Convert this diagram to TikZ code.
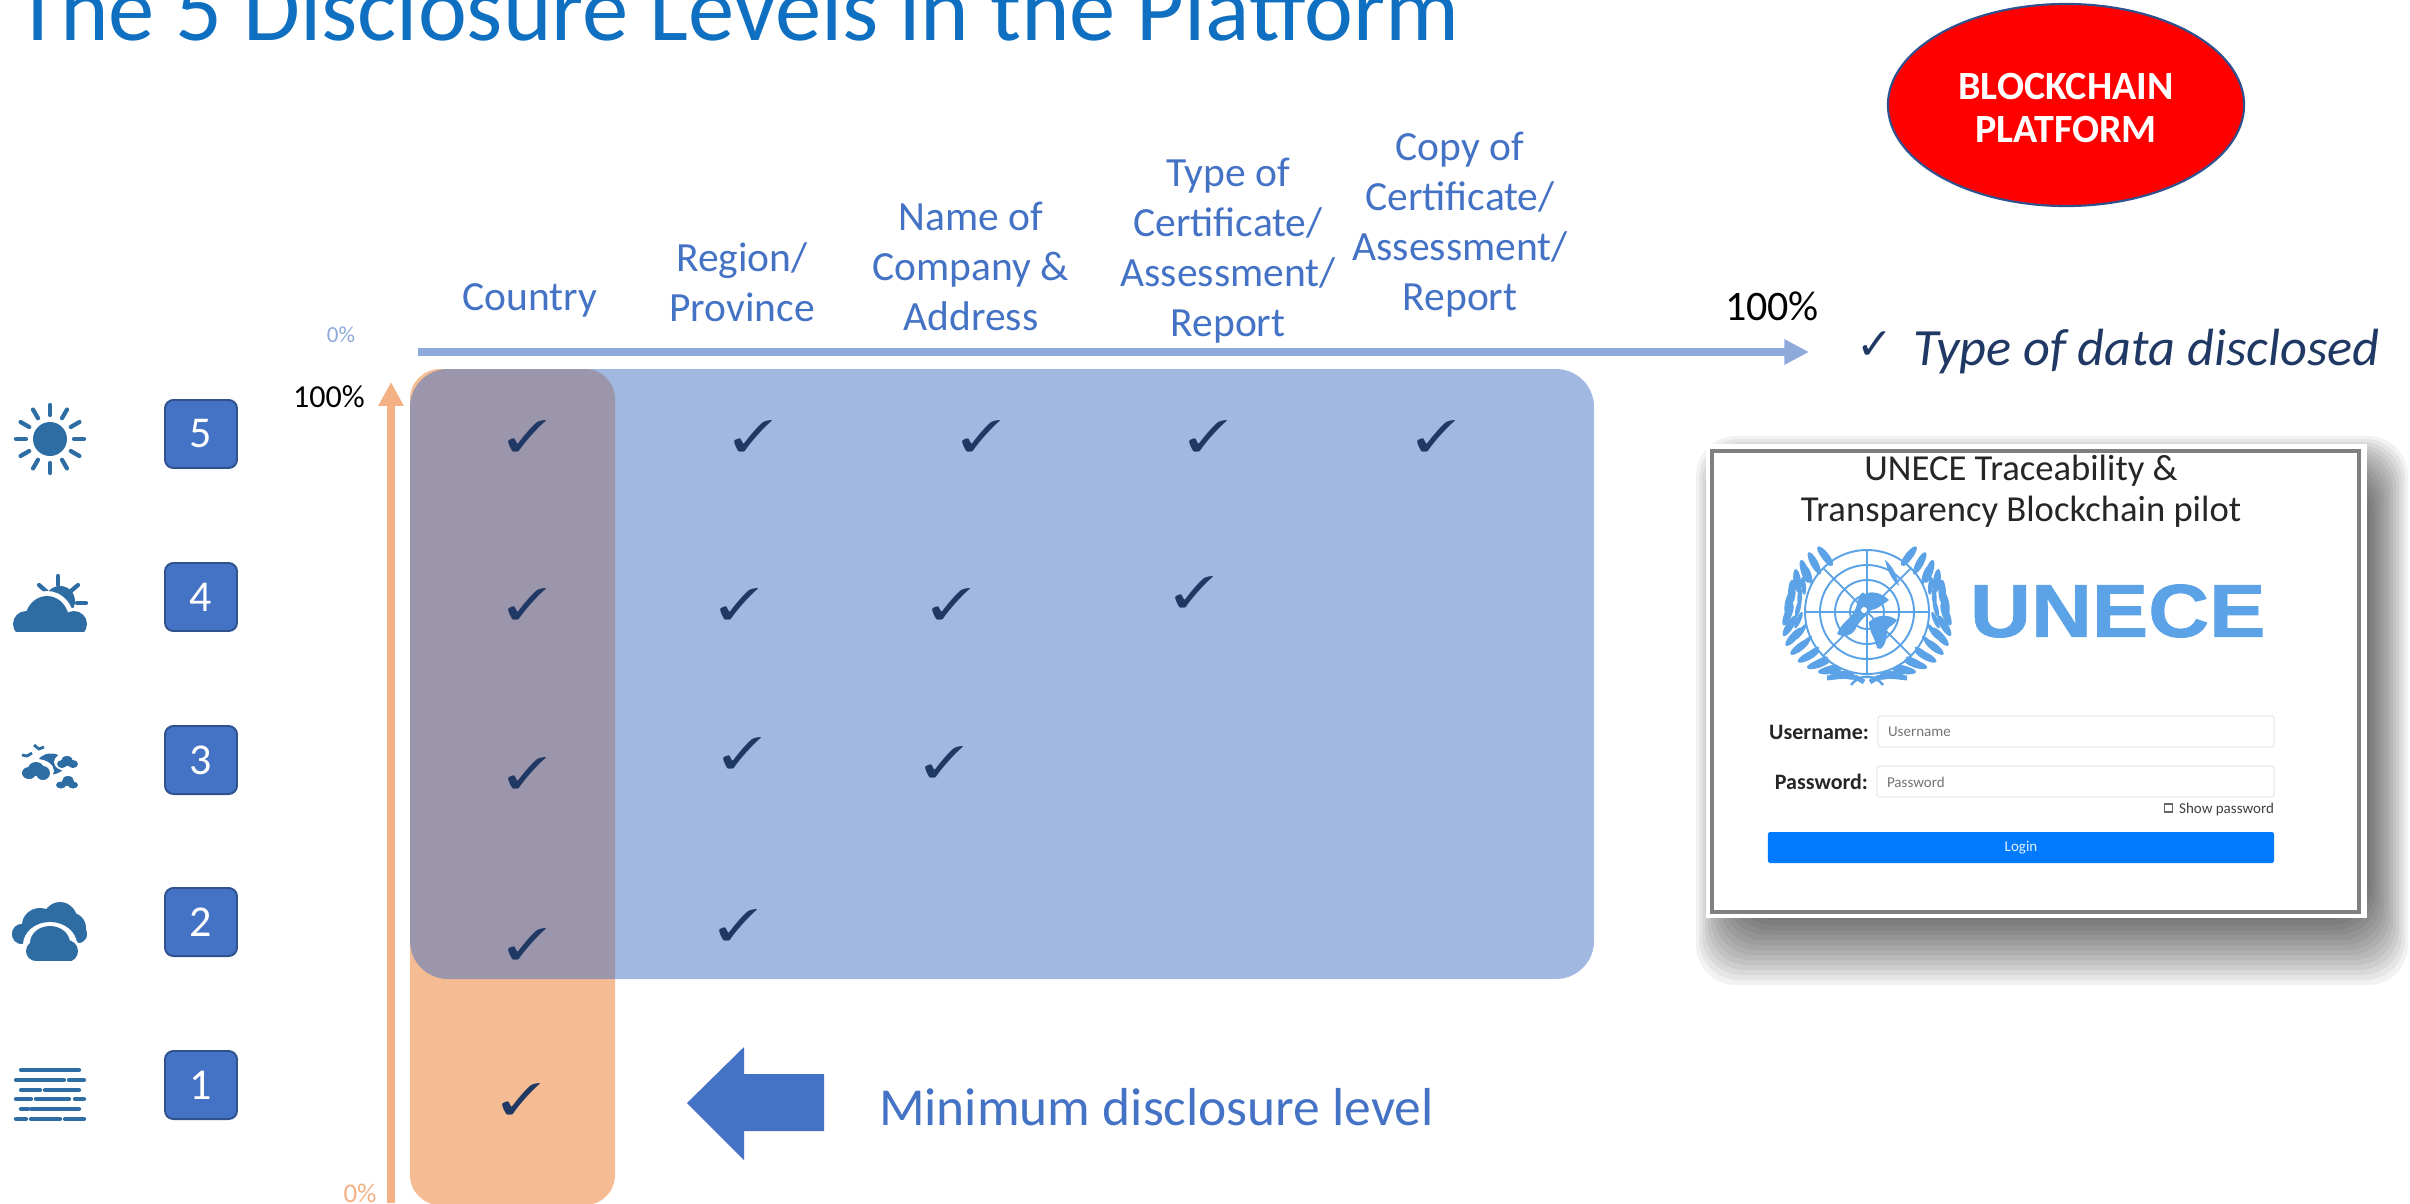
\documentclass[tikz,border=0pt]{standalone}
\usepackage{fontspec}
\usepackage{pifont}
\usepackage{graphicx}
\usetikzlibrary{arrows.meta,shapes.geometric}
\setmainfont{Carlito}
\newfontfamily\uneceF{Liberation Sans}[BoldFeatures={FakeStretch=1.125,FakeBold=1}]
\newfontfamily\dejaF{DejaVu Sans}
\definecolor{blueA}{HTML}{4472C4}
\definecolor{blueB}{HTML}{8EAADB}
\definecolor{blueD}{HTML}{2F528F}
\definecolor{orangeA}{HTML}{F4B183}
\definecolor{orangeB}{HTML}{F5BC94}
\definecolor{navy}{HTML}{1F3864}
\definecolor{icon}{HTML}{2E6DA4}
\definecolor{titleC}{HTML}{0F6FC0}
\definecolor{un}{HTML}{5BA3E6}
\definecolor{login}{HTML}{007BFF}
\newcommand\pxf[2]{\fontsize{\fpeval{#1*0.28453}}{\fpeval{#2*0.28453}}\selectfont}
\newcommand\tickmark{\scalebox{1.25}[1]{\ding{51}}}
\tikzset{
  txt/.style={inner sep=0pt,outer sep=0pt},
  head/.style={txt,align=center,text=blueA,font=\pxf{41.5}{50}},
  lvl/.style={draw=blueD,line width=0.55pt,fill=blueA,rounded corners=2.4pt,minimum width=0.72cm,minimum height=0.68cm,inner sep=0pt,text=white,font=\pxf{44}{50}},
  tick/.style={txt,text=navy,font=\fontsize{12.5}{13}\selectfont},
  icn/.style={line width=1.2pt,draw=icon,line cap=round},
  hz/.style={line width=1.2pt,draw=icon,line cap=round},
  field/.style={draw=black!8,line width=0.4pt,fill=white,rounded corners=0.5pt},
  leaf/.style={fill=un},
  axisH/.style={draw=blueB,line width=2.3pt,-{Triangle[length=7pt,width=6.8pt]}},
  axisV/.style={draw=orangeA,line width=2.3pt,-{Triangle[length=6.8pt,width=6.8pt]}},
}
\begin{document}
\begin{tikzpicture}[x=0.01cm,y=-0.01cm]
\useasboundingbox (0,0) rectangle (2410,1203);
\fill[white] (0,0) rectangle (2410,1203);
% title
\node[txt,anchor=base west,text=titleC,font=\pxf{92.5}{98}] (title) at (15,41) {The 5 Disclosure Levels in the Platform};
% ellipse
\node[draw=blueD,line width=0.6pt,fill=red,ellipse,minimum width=3.56cm,minimum height=2.02cm,inner sep=0pt] (chain) at (2066,105) {};
\node[txt,align=center,text=white,font=\pxf{40}{42}\bfseries] (chaintxt) at (2066,108) {BLOCKCHAIN\\PLATFORM};
% panels
\fill[orangeB,rounded corners=0.3cm] (410,369) rectangle (615,1205);
\fill[blueA,opacity=.5,rounded corners=0.38cm] (410,369) rectangle (1594,979);
% axes
\coordinate (hs) at (418,352); \coordinate (he) at (1809,352);
\coordinate (vs) at (391,1203); \coordinate (ve) at (391,382);
\draw[axisH] (hs) -- (he);
\draw[axisV] (vs) -- (ve);
\node[txt,text=blueB,font=\pxf{23}{26}] (p0a) at (341,335) {0\%};
\node[txt,text=black,font=\pxf{32}{34}] (p100a) at (329,397) {100\%};
\node[txt,text=orangeA,font=\pxf{27}{30}] (p0b) at (360,1193) {0\%};
\node[txt,text=black,font=\pxf{42}{44}] (p100b) at (1772,306) {100\%};
% headers
\node[head] (c1) at (530,300) {Country};
\node[head] (c2) at (742,282) {Region/\\Province};
\node[head] (c3) at (971,266) {Name of\\Company \&\\Address};
\node[head] (c4) at (1228,251) {Type of\\Certificate/\\Assessment/\\Report};
\node[head] (c5) at (1460,225) {Copy of\\Certificate/\\Assessment/\\Report};
% legend
\node[txt,text=navy,font=\dejaF\pxf{44}{48}] (lck) at (1875,346) {✓};
\node[txt,anchor=west,text=navy,font=\pxf{52.3}{56}\itshape] (ltx) at (1913,352) {Type of data disclosed};
% ticks
\foreach \n/\x/\y in {a/527/436,b/753/436,c/981/436,d/1208/436,e/1436/436,
  f/527/604,g/739/604,h/951/604,i/1194/592,
  j/527/773,k/742/753,l/944/762,
  m/527/944,n/738/925,
  o/521/1099}
  \node[tick] (t\n) at (\x,\y) {\tickmark};
% level boxes
\foreach \n/\y in {5/434,4/597,3/760,2/922,1/1085}
  \node[lvl] (b\n) at (201,\y) {\n};
% sun
\begin{scope}[shift={(50,439)}]
  \fill[icon] (0,0) circle (17);
  \foreach \a in {0,30,...,330} \draw[icn] (\a:24) -- (\a:34);
\end{scope}
% cloud + sun
\begin{scope}
  \fill[icon] (60,601) circle (15);
  \draw[icn] (58,576) -- (58,585);
  \draw[icn] (39,585) -- (47,592);
  \draw[icn] (78,585) -- (71,591);
  \draw[icn] (77,603) -- (86,603);
  \fill[white] (47,620) ellipse (27 and 29);
  \fill[white] (74,624) circle (16);
  \begin{scope}
    \clip (0,560) rectangle (100,631);
    \fill[icon] (47,620) ellipse (22 and 24);
    \fill[icon] (26,624) circle (13);
    \fill[icon] (74,624) circle (13);
    \fill[icon] (26,624) rectangle (74,632);
  \end{scope}
\end{scope}
% small clouds
\begin{scope}[shift={(50,770)}]
  \fill[icon] (1,-6) ellipse (14 and 10.5);
  \fill[white] (-14,1) ellipse (18 and 12);
  \fill[icon] (-14,-1) ellipse (8 and 7);
  \fill[icon] (-21,3) ellipse (7 and 6);
  \fill[icon] (-7,3) ellipse (7 and 7);
  \fill[white] (17,-8) ellipse (13 and 9);
  \fill[icon] (17,-9) ellipse (6 and 5);
  \fill[icon] (12,-6) ellipse (5 and 4);
  \fill[icon] (23,-6) ellipse (5 and 4);
  \fill[icon] (18,11) ellipse (6 and 5);
  \fill[icon] (11,15) ellipse (5 and 3.5);
  \fill[icon] (23,15) ellipse (5 and 3.5);
  \draw[icon,line width=0.8pt] (-28,-15) -- (-23,-14) -- (-18,-17);
  \draw[icon,line width=0.8pt] (-16,-25) -- (-11,-21) -- (-6,-23);
\end{scope}
% two clouds
\begin{scope}
  \fill[icon] (60,922) ellipse (18 and 20);
  \fill[icon] (40,925) ellipse (18 and 17);
  \fill[icon] (72,928) ellipse (14 and 15);
  \fill[icon] (22,934) circle (10);
  \fill[icon] (78,934) circle (9);
  \fill[icon] (22,924) rectangle (78,938);
  \fill[white] (12,946) -- (88,946) -- (88,975) -- (12,975) -- cycle;
  \fill[icon] (22,934) circle (10);
  \fill[icon] (78,934) circle (9);
  \fill[white] (50,945) ellipse (27 and 23);
  \fill[white] (36,951) circle (14);
  \fill[white] (67,951) circle (14);
  \begin{scope}
    \clip (0,900) rectangle (100,960);
    \fill[icon] (50,943) ellipse (20 and 17);
    \fill[icon] (36,951) circle (10);
    \fill[icon] (67,951) circle (11);
    \fill[icon] (36,950) rectangle (67,961);
  \end{scope}
\end{scope}
% haze
\foreach \y/\a/\b in {1070/21/55,1070/57/79,1080/16/64,1080/69/84,1090/21/40,1090/45/79,
  1099/16/31,1099/36/69,1099/75/84,1109/21/28,1109/31/79,1119/16/26,1119/31/60,1119/65/84}
  \draw[hz] (\a,\y) -- (\b,\y);
% block arrow
\fill[blueA] (687,1103) -- (744,1047) -- (744,1074) -- (824,1074) -- (824,1131) -- (744,1131) -- (744,1160) -- cycle;
\node[txt,anchor=west,text=blueA,font=\pxf{53.4}{58}] (minl) at (879,1107) {Minimum disclosure level};
% login card shadow
\foreach \i in {0,...,13}
  \fill[black,opacity=.05,rounded corners=0.4cm]
    (1696+\i*3,436+\i*3) rectangle (2408-\i*3,985-\i*5);
\fill[white] (1706,444) rectangle (2367,918);
\draw[draw=black!50,line width=1.2pt] (1712,451) rectangle (2359,912);
\node[txt,text=black!85,align=center,font=\pxf{36.6}{41}] (lt) at (2021,491) {UNECE Traceability \&\\Transparency Blockchain pilot};
% emblem
\begin{scope}[shift={(1867,612)}]
  \foreach \r in {62,47,32,17} \draw[un,line width=0.55pt] (0,0) circle (\r);
  \foreach \a in {0,45,...,315} \draw[un,line width=0.5pt] (0,0) -- (\a:62);
  \fill[un] (-30,22) .. controls (-25,8) and (-14,8) .. (-10,-8) .. controls (-8,-18) and (-4,-22) .. (-2,-18) .. controls (6,-22) and (16,-18) .. (22,-12) .. controls (14,-6) and (8,-2) .. (4,-2) .. controls (0,4) and (-8,8) .. (-12,18) .. controls (-16,24) and (-24,26) .. (-30,22) -- cycle;
  \fill[un] (2,10) .. controls (10,2) and (22,2) .. (30,8) .. controls (26,14) and (22,14) .. (20,18) .. controls (20,32) and (14,40) .. (10,36) .. controls (8,26) and (2,20) .. (2,10) -- cycle;
  \fill[un] (18,-52) .. controls (26,-46) and (30,-36) .. (32,-26) .. controls (26,-30) and (20,-42) .. (18,-52) -- cycle;
  \fill[white] (-3,-2) circle (3);
  \foreach \s in {1,-1}{
    \begin{scope}[xscale=\s]
      \foreach \a in {-58,-48,...,72}{
        \fill[leaf,shift={({79*cos(\a)},{66*sin(\a)})},rotate=\a+20] (0,0) ellipse (3.8 and 12);
        \fill[leaf,shift={({69*cos(\a+5)},{67*sin(\a+5)})},rotate=\a+22] (0,0) ellipse (2.4 and 9);
      }
      \draw[un,line width=1.4pt] (3,70) .. controls (14,62) and (22,64) .. (40,66);
    \end{scope}}
  \draw[un,line width=0.7pt] (-16,73) .. controls (-8,62) and (8,62) .. (16,73);
\end{scope}
\node[txt,anchor=west,text=un,font=\uneceF\bfseries\pxf{75}{80}] (un) at (1970,611) {UNECE};
% form
\node[txt,anchor=east,text=black!85,font=\pxf{22}{26}\bfseries] (lu) at (1869,732) {Username:};
\node[txt,anchor=east,text=black!85,font=\pxf{22}{26}\bfseries] (lp) at (1868,782) {Password:};
\draw[field] (1878,716) rectangle (2274,747);
\draw[field] (1877,766) rectangle (2274,797);
\node[txt,anchor=west,text=black!55,font=\pxf{15}{18}] (pu) at (1888,732) {Username};
\node[txt,anchor=west,text=black!55,font=\pxf{15}{18}] (pp) at (1887,782) {Password};
\draw[draw=black!60,line width=0.3pt,fill=white] (2164,804) rectangle (2172,812);
\node[txt,anchor=east,text=black!75,font=\pxf{15}{18}] (sp) at (2274,809) {Show password};
\node[fill=login,rounded corners=0.5pt,minimum width=5.06cm,minimum height=0.31cm,inner sep=0pt,text=white!90!login,font=\pxf{15}{18}] (go) at (2021,847.5) {Login};
\end{tikzpicture}
\end{document}
